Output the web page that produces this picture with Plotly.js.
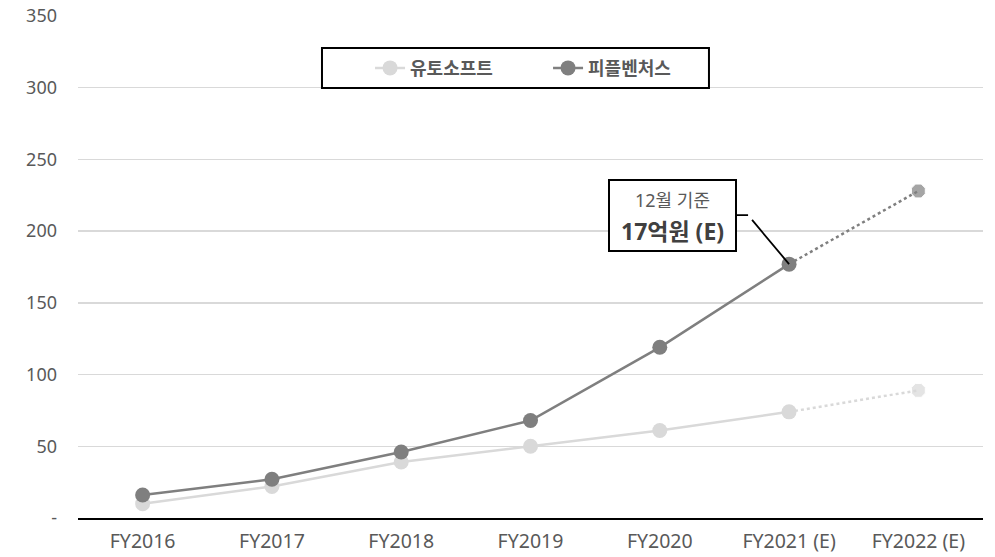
<!DOCTYPE html>
<html><head><meta charset="utf-8">
<script src="https://cdn.plot.ly/plotly-3.0.1.min.js"></script>
<style>html,body{margin:0;padding:0;background:#fff}#chart{width:995px;height:557px}</style>
</head><body><div id="chart"></div>
<script>
const categories = ['FY2016','FY2017','FY2018','FY2019','FY2020','FY2021 (E)','FY2022 (E)'];
const utoSoft = [10, 22, 39, 50, 61, 74, 89];
const peopleVentures = [16, 27, 46, 68, 119, 177, 228];
const seriesNames = ['유토소프트', '피플벤처스'];
const yTickVals = [0, 50, 100, 150, 200, 250, 300, 350];
const yTickText = ['-', '50', '100', '150', '200', '250', '300', '350'];
const noteLine1 = '12월 기준';
const noteLine2 = '17억원 (E)';
const actualEnd = 6; // number of points drawn with solid line

const FONT = '"Noto Sans", "Noto Sans CJK KR", sans-serif';
const light = '#d9d9d9', dark = '#7f7f7f';

function solid(vals, name, color) {
  return {x: categories.slice(0, actualEnd), y: vals.slice(0, actualEnd), name: name,
    type: 'scatter', mode: 'lines+markers', line: {color: color, width: 2.5},
    marker: {color: color, size: 15, symbol: 'circle'}, cliponaxis: false};
}
function proj(vals, color) {
  const xs = categories.slice(actualEnd - 1), ys = vals.slice(actualEnd - 1);
  return {x: xs, y: ys, type: 'scatter', mode: 'lines+markers', showlegend: false,
    line: {color: color, width: 2.5, dash: 'dot'},
    marker: {color: color, size: ys.map((v, i) => i === 0 ? 0 : 15), symbol: 'octagon'},
    cliponaxis: false, hoverinfo: 'skip'};
}

const data = [
  proj(utoSoft, light), proj(peopleVentures, dark),
  solid(utoSoft, seriesNames[0], light), solid(peopleVentures, seriesNames[1], dark)
];
const idx = actualEnd - 1;
const px = categories[idx], py = peopleVentures[idx];
const layout = {
  width: 995, height: 557,
  margin: {l: 78, r: 12, t: 16, b: 39},
  paper_bgcolor: '#fff', plot_bgcolor: '#fff',
  font: {family: FONT, color: '#595959', size: 18},
  showlegend: true,
  legend: {orientation: 'h', x: 0.3227, xanchor: 'left', y: 0.896, yanchor: 'middle',
    bgcolor: 'rgba(0,0,0,0)', borderwidth: 0, traceorder: 'normal',
    font: {family: FONT, size: 18, color: '#595959', weight: 'bold'}, entrywidth: 133, itemclick: false},
  xaxis: {type: 'category', categoryorder: 'array', categoryarray: categories, range: [-0.5, 6.5],
    showgrid: false, zeroline: false, showline: true, linecolor: '#000', linewidth: 2,
    ticks: '', tickfont: {family: FONT, size: 19.5, color: '#595959'}, ticklabelstandoff: 5, fixedrange: true},
  yaxis: {range: [0, 350], tickvals: yTickVals, ticktext: yTickText, showgrid: true,
    gridcolor: '#d9d9d9', gridwidth: 1.5, zeroline: false, showline: false, ticks: '',
    ticklabelstandoff: 20, tickfont: {family: FONT, size: 18, color: '#595959'}, fixedrange: true},
  shapes: [{type: 'rect', xref: 'paper', yref: 'paper', x0: 0.2696, x1: 0.6972, y0: 0.8566, y1: 0.9363,
    line: {color: '#000', width: 2}, fillcolor: 'rgba(0,0,0,0)', layer: 'above'}],
  annotations: [
    {x: px, y: py, xref: 'x', yref: 'y', text: ' ', showarrow: true,
     ax: -41, ay: -49, arrowhead: 0, arrowwidth: 1.8, arrowcolor: '#000', standoff: 0, startstandoff: 0,
     bgcolor: 'rgba(0,0,0,0)'},
    {x: px, y: py, xref: 'x', yref: 'y', xshift: -41, yshift: 49, text: ' ',
     showarrow: true, ax: -76, ay: 0, arrowhead: 0, arrowwidth: 1.8, arrowcolor: '#000', standoff: 0,
     bordercolor: '#000', borderwidth: 2, borderpad: 2, bgcolor: '#fff', width: 121, height: 65},
    {x: px, y: py, xref: 'x', yref: 'y', xshift: -117, yshift: 64, text: noteLine1, showarrow: false,
     font: {family: FONT, size: 18, color: '#595959'}, xanchor: 'center', yanchor: 'middle'},
    {x: px, y: py, xref: 'x', yref: 'y', xshift: -117, yshift: 33, text: '<b>' + noteLine2 + '</b>', showarrow: false,
     font: {family: FONT, size: 23, color: '#404040'}, xanchor: 'center', yanchor: 'middle'}
  ]
};
Plotly.newPlot('chart', data, layout, {displayModeBar: false, staticPlot: true});
</script></body></html>
